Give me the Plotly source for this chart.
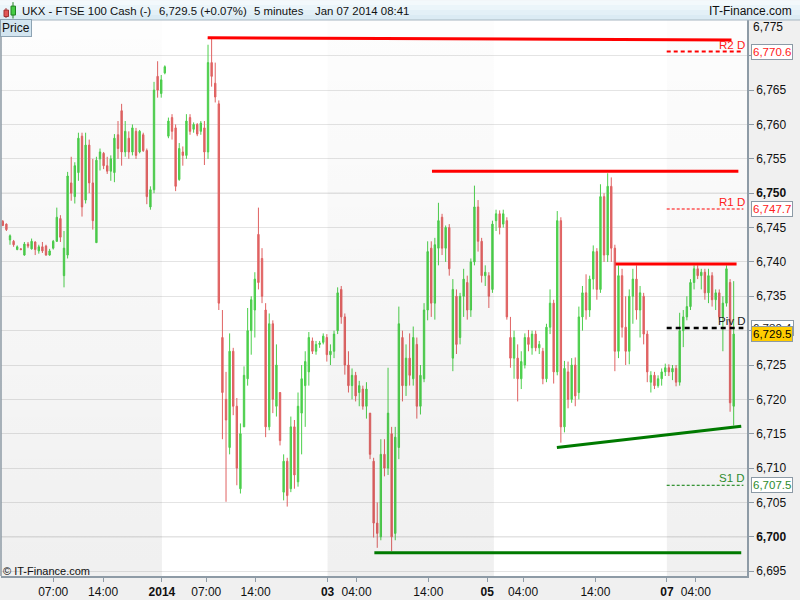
import plotly.graph_objects as go

# ---------------- data (5-min FTSE 100 cash, aggregated) ----------------
opens = [6745.9, 6745.5, 6743.2, 6743.0, 6741.8, 6741.9, 6741.0, 6742.6, 6741.9, 6742.9,
         6741.6, 6742.2, 6742.3, 6741.0, 6742.0, 6743.0, 6746.3, 6738.0, 6741.0, 6751.5,
         6749.5, 6753.0, 6758.3, 6749.0, 6757.0, 6751.5, 6742.8, 6755.0, 6755.8, 6754.0,
         6753.2, 6753.0, 6758.5, 6762.0, 6756.0, 6758.0, 6756.0, 6759.0, 6756.0, 6758.5,
         6756.2, 6748.0, 6750.5, 6767.0, 6764.5, 6767.5, 6758.3, 6761.0, 6759.5, 6752.0,
         6756.0, 6755.5, 6761.0, 6759.3, 6760.0, 6759.0, 6759.5, 6756.0, 6769.0, 6766.0,
         6763.0, 6729.0, 6720.0, 6713.0, 6727.0, 6719.0, 6707.0, 6716.0, 6723.0, 6730.0,
         6733.0, 6744.0, 6740.5, 6733.0, 6716.0, 6731.0, 6719.0, 6721.0, 6706.5, 6711.0,
         6707.0, 6716.0, 6708.0, 6718.0, 6722.0, 6724.0, 6728.5, 6727.0, 6728.0, 6728.3,
         6729.0, 6726.5, 6727.0, 6730.0, 6736.0, 6732.0, 6725.0, 6722.0, 6723.5, 6721.0,
         6721.5, 6719.0, 6718.0, 6711.0, 6702.0, 6700.0, 6712.0, 6710.0, 6715.0, 6700.5,
         6713.0, 6729.0, 6722.0, 6726.0, 6723.0, 6728.0, 6719.0, 6723.0, 6733.0, 6742.0,
         6734.0, 6742.0, 6746.5, 6742.0, 6745.0, 6726.0, 6735.0, 6729.0, 6735.0, 6737.0,
         6733.0, 6740.0, 6748.0, 6743.0, 6738.0, 6738.0, 6736.0, 6746.0, 6747.0, 6745.5,
         6746.0, 6729.0, 6726.0, 6726.0, 6723.0, 6725.0, 6729.0, 6727.5, 6729.5, 6727.5,
         6727.0, 6723.0, 6730.5, 6734.0, 6724.0, 6746.0, 6716.0, 6724.0, 6720.0, 6725.0,
         6721.0, 6732.0, 6735.5, 6733.0, 6737.5, 6741.5, 6736.0, 6749.5, 6741.0, 6751.0,
         6742.0, 6727.0, 6738.0, 6730.5, 6727.0, 6735.0, 6737.5, 6733.0, 6735.0, 6729.5,
         6722.5, 6723.5, 6722.0, 6723.0, 6724.0, 6724.6, 6724.0, 6724.5, 6722.5, 6730.0,
         6732.0, 6733.5, 6737.0, 6739.0, 6738.0, 6738.5, 6735.5, 6738.0, 6734.5, 6735.5,
         6732.0, 6734.0, 6737.0, 6719.0]
highs = [6746.1, 6745.6, 6744.0, 6743.2, 6742.4, 6742.0, 6742.9, 6742.9, 6743.4, 6743.0,
         6742.5, 6742.9, 6742.5, 6741.9, 6743.2, 6747.9, 6746.8, 6744.5, 6753.1, 6755.3,
         6754.5, 6758.8, 6758.8, 6758.8, 6757.8, 6755.0, 6755.3, 6756.5, 6756.0, 6755.3,
         6755.5, 6758.6, 6760.5, 6763.0, 6760.5, 6759.0, 6760.0, 6759.5, 6759.2, 6758.8,
         6756.5, 6751.0, 6766.2, 6769.2, 6767.2, 6768.6, 6761.0, 6761.5, 6760.0, 6757.3,
         6756.8, 6761.5, 6761.5, 6760.3, 6760.2, 6760.5, 6760.5, 6771.6, 6772.6, 6769.0,
         6763.5, 6733.0, 6724.0, 6729.6, 6727.5, 6720.2, 6716.5, 6724.8, 6733.3, 6735.0,
         6738.5, 6747.9, 6742.0, 6734.0, 6732.5, 6731.5, 6728.0, 6721.0, 6712.0, 6711.5,
         6717.5, 6717.0, 6721.0, 6725.0, 6727.0, 6729.8, 6729.0, 6728.5, 6728.5, 6729.6,
         6729.5, 6728.0, 6730.0, 6736.3, 6736.5, 6732.5, 6727.0, 6724.5, 6724.0, 6722.7,
         6722.0, 6722.5, 6718.0, 6711.5, 6705.0, 6714.2, 6714.2, 6724.6, 6716.0, 6716.0,
         6733.5, 6730.0, 6728.0, 6729.6, 6730.6, 6729.0, 6725.0, 6734.0, 6743.0, 6743.0,
         6743.5, 6748.6, 6747.0, 6745.3, 6745.5, 6737.5, 6736.0, 6735.5, 6739.0, 6738.0,
         6740.5, 6751.1, 6749.0, 6743.5, 6739.5, 6738.5, 6746.0, 6747.6, 6747.5, 6747.6,
         6746.5, 6732.0, 6730.0, 6728.0, 6727.0, 6729.6, 6730.1, 6730.0, 6730.0, 6728.5,
         6727.5, 6731.0, 6736.0, 6734.5, 6747.4, 6746.5, 6725.6, 6725.5, 6726.0, 6726.1,
         6733.5, 6736.5, 6738.2, 6738.0, 6742.4, 6742.0, 6751.3, 6750.0, 6752.9, 6752.3,
         6742.5, 6739.5, 6739.0, 6735.0, 6736.0, 6739.0, 6739.5, 6736.5, 6735.5, 6730.0,
         6724.1, 6724.0, 6723.5, 6724.5, 6725.2, 6725.1, 6725.0, 6725.0, 6732.6, 6733.0,
         6735.0, 6737.5, 6739.5, 6739.5, 6739.0, 6739.0, 6739.0, 6738.5, 6736.0, 6736.0,
         6735.0, 6739.5, 6737.5, 6737.2]
lows = [6745.2, 6744.5, 6742.5, 6742.2, 6741.7, 6741.7, 6740.9, 6742.0, 6741.8, 6741.0,
        6741.2, 6741.3, 6740.9, 6740.9, 6741.8, 6742.9, 6742.9, 6736.3, 6740.5, 6748.9,
        6748.5, 6751.8, 6746.6, 6748.5, 6750.0, 6744.7, 6742.8, 6753.3, 6753.5, 6752.8,
        6751.8, 6751.6, 6755.0, 6754.0, 6755.3, 6755.0, 6755.5, 6755.0, 6755.8, 6756.0,
        6748.4, 6747.6, 6750.0, 6763.9, 6763.9, 6767.3, 6758.0, 6757.8, 6750.3, 6751.8,
        6754.0, 6755.0, 6758.5, 6758.8, 6758.3, 6758.5, 6754.1, 6755.0, 6765.5, 6763.2,
        6733.0, 6714.2, 6705.1, 6712.0, 6717.7, 6707.5, 6706.3, 6716.0, 6722.0, 6726.5,
        6729.0, 6736.0, 6734.0, 6714.5, 6715.5, 6718.0, 6717.5, 6713.3, 6705.3, 6704.4,
        6706.5, 6707.0, 6707.3, 6712.0, 6716.0, 6722.0, 6726.6, 6726.5, 6727.5, 6728.0,
        6725.5, 6725.0, 6726.0, 6729.5, 6731.0, 6723.6, 6721.0, 6720.0, 6719.7, 6719.0,
        6718.5, 6717.2, 6711.3, 6699.9, 6698.4, 6699.5, 6708.8, 6709.0, 6697.9, 6699.5,
        6711.3, 6719.7, 6720.5, 6722.0, 6722.0, 6717.2, 6717.8, 6722.5, 6731.5, 6732.0,
        6731.6, 6739.5, 6741.0, 6740.0, 6738.0, 6724.1, 6726.6, 6728.0, 6732.0, 6731.6,
        6732.0, 6739.5, 6741.5, 6737.0, 6736.5, 6733.3, 6735.5, 6744.5, 6744.0, 6745.0,
        6731.6, 6724.6, 6723.0, 6719.7, 6721.5, 6724.5, 6727.0, 6726.5, 6727.0, 6726.6,
        6722.2, 6722.5, 6729.5, 6722.3, 6723.5, 6713.7, 6715.2, 6718.7, 6719.5, 6719.0,
        6720.0, 6730.0, 6731.6, 6732.0, 6736.0, 6734.5, 6735.5, 6740.0, 6740.0, 6740.0,
        6724.1, 6726.0, 6729.0, 6725.0, 6725.1, 6731.0, 6731.6, 6729.0, 6728.0, 6722.5,
        6721.0, 6721.5, 6721.7, 6722.0, 6723.4, 6723.4, 6722.8, 6721.9, 6722.0, 6727.6,
        6731.5, 6733.0, 6736.0, 6737.5, 6736.0, 6734.5, 6734.0, 6733.5, 6733.0, 6731.6,
        6727.0, 6733.5, 6718.2, 6716.2]
closes = [6745.3, 6744.7, 6743.8, 6742.5, 6742.2, 6741.8, 6742.6, 6742.3, 6743.0, 6741.8,
          6742.2, 6741.6, 6741.0, 6741.6, 6743.0, 6746.5, 6743.6, 6742.0, 6752.5, 6750.0,
          6754.0, 6758.0, 6748.0, 6757.0, 6751.5, 6746.0, 6754.8, 6756.0, 6754.0, 6753.2,
          6755.0, 6758.0, 6756.5, 6756.0, 6759.0, 6756.0, 6759.5, 6755.5, 6759.0, 6756.2,
          6749.5, 6750.5, 6765.0, 6765.0, 6766.5, 6768.4, 6760.5, 6759.0, 6751.0, 6756.5,
          6755.5, 6760.5, 6759.0, 6760.0, 6758.6, 6760.2, 6756.0, 6769.0, 6767.0, 6764.0,
          6734.0, 6721.0, 6717.0, 6727.0, 6719.0, 6710.0, 6715.0, 6723.5, 6730.0, 6734.5,
          6737.5, 6737.0, 6735.0, 6716.0, 6731.0, 6720.0, 6725.0, 6714.0, 6711.0, 6706.0,
          6716.0, 6709.0, 6719.0, 6723.0, 6725.5, 6729.0, 6727.0, 6728.0, 6728.2, 6729.2,
          6726.5, 6727.0, 6729.5, 6735.5, 6732.0, 6725.0, 6722.0, 6723.5, 6720.5, 6722.0,
          6719.0, 6721.5, 6712.0, 6702.0, 6700.5, 6712.0, 6710.0, 6718.0, 6700.0, 6714.5,
          6731.0, 6722.0, 6726.0, 6723.5, 6729.0, 6719.0, 6723.5, 6733.0, 6741.5, 6734.0,
          6742.5, 6746.0, 6742.0, 6745.0, 6739.0, 6736.0, 6728.0, 6735.0, 6737.5, 6733.0,
          6740.0, 6748.0, 6743.0, 6738.0, 6738.5, 6735.0, 6745.5, 6747.0, 6745.0, 6747.0,
          6732.0, 6726.0, 6729.0, 6723.0, 6725.5, 6729.0, 6728.0, 6729.5, 6727.5, 6728.0,
          6723.0, 6730.5, 6734.0, 6724.0, 6746.0, 6716.0, 6724.5, 6720.0, 6725.0, 6720.5,
          6732.0, 6735.5, 6733.0, 6737.5, 6741.5, 6736.0, 6749.5, 6741.0, 6751.0, 6742.0,
          6727.0, 6738.0, 6730.5, 6727.0, 6735.0, 6737.5, 6733.0, 6735.5, 6729.5, 6724.0,
          6723.5, 6722.0, 6723.0, 6724.0, 6724.6, 6724.0, 6724.5, 6722.5, 6730.0, 6732.0,
          6733.5, 6737.0, 6739.0, 6738.0, 6738.5, 6735.5, 6738.0, 6734.5, 6735.5, 6732.0,
          6734.0, 6739.0, 6719.5, 6729.5]
slots = list(range(len(closes)))

# time axis (slot units), labels
tick_pos = [14.0, 27.85, 44.2, 56.5, 70.2, 90.2, 98.25, 118.2, 134.55, 144.5, 164.6, 184.45, 192.5]
tick_text = ["07:00", "14:00", "<b>2014</b>", "07:00", "14:00", "<b>03</b>", "04:00", "14:00",
             "<b>05</b>", "04:00", "14:00", "<b>07</b>", "04:00"]
session_bands = [(-0.5, 44.2), (90.2, 136.4), (184.45, 206.7)]

price_ticks = list(range(6695, 6775, 5))
hidden_price_labels = [6770, 6730]   # covered by the level boxes in the original
top_price_label = 6775

# drawn trend lines: (x0, y0, x1, y1)
resistance_lines = [(56.9, 6772.6, 202.4, 6772.3), (119.2, 6753.2, 204.3, 6753.2), (170.2, 6739.7, 203.8, 6739.7)]
support_lines = [(103.2, 6697.7, 205.1, 6697.7), (153.9, 6713.0, 205.1, 6716.1)]

# daily pivot levels
pivot_names = ["R2 D", "R1 D", "Piv D", "S1 D"]
pivot_values = [6770.6, 6747.7, 6730.4, 6707.5]
pivot_x = (184.4, 205.7)
last_price = 6729.5

Y_RANGE = [6694.3, 6775.2]
X_RANGE = [-0.5, 206.7]

# ---------------- figure ----------------
fig = go.Figure()

for x0, x1 in session_bands:
    fig.add_trace(go.Scatter(
        x=[x0, x1, x1, x0, x0], y=[Y_RANGE[0], Y_RANGE[0], Y_RANGE[1], Y_RANGE[1], Y_RANGE[0]],
        mode="none", fill="toself", hoverinfo="skip", showlegend=False,
        fillgradient=dict(type="vertical", colorscale=[[0, "rgba(0,0,0,0.06)"], [1, "rgba(0,0,0,0.008)"]]),
    ))

fig.add_trace(go.Candlestick(
    x=slots, open=opens, high=highs, low=lows, close=closes,
    increasing=dict(line=dict(color="#4ccf4c", width=1), fillcolor="#4ccf4c"),
    decreasing=dict(line=dict(color="#e06262", width=1), fillcolor="#e06262"),
    whiskerwidth=0, showlegend=False, hoverinfo="skip",
))

def px2paper_x(px):
    return (px - 1) / 746.0

def py2paper_y(py):
    return (580 - py) / 560.0

shapes = []
# darker major gridlines
for v in (6750, 6700):
    shapes.append(dict(type="line", xref="paper", yref="y", x0=0, x1=1, y0=v, y1=v,
                       line=dict(color="#d0d0d0", width=1), layer="below"))
# left border
shapes.append(dict(type="line", xref="paper", yref="paper", x0=0, x1=0, y0=0, y1=1,
                   line=dict(color="#8e9ba6", width=1.5)))
# trend lines
for x0, y0, x1, y1 in resistance_lines:
    shapes.append(dict(type="line", xref="x", yref="y", x0=x0, y0=y0, x1=x1, y1=y1,
                       line=dict(color="#ff0000", width=3)))
for x0, y0, x1, y1 in support_lines:
    shapes.append(dict(type="line", xref="x", yref="y", x0=x0, y0=y0, x1=x1, y1=y1,
                       line=dict(color="#007a00", width=3)))
# pivot dashed lines
pivot_styles = [("#ff0000", 2, "4px,3px"), ("#ff0000", 1, "3px,2px"),
                ("#000000", 2.5, "5px,4px"), ("#007a00", 1, "3px,2px")]
for v, (c, w, d) in zip(pivot_values, pivot_styles):
    shapes.append(dict(type="line", xref="x", yref="y", x0=pivot_x[0], x1=pivot_x[1], y0=v, y1=v,
                       line=dict(color=c, width=w, dash=d)))
# title bar gradient
bar_cols = ["#f3f9fc", "#ebf5fa", "#e3f0f7", "#dbebf4"]
for k, c in enumerate(bar_cols):
    shapes.append(dict(type="rect", xref="paper", yref="paper",
                       x0=px2paper_x(0), x1=px2paper_x(800),
                       y0=py2paper_y(5 * (k + 1)), y1=py2paper_y(5 * k),
                       fillcolor=c, line=dict(width=0), layer="above"))
shapes.append(dict(type="line", xref="paper", yref="paper", x0=px2paper_x(0), x1=px2paper_x(800),
                   y0=py2paper_y(20), y1=py2paper_y(20), line=dict(color="#a7b6c1", width=1)))
# icon (two candles)
shapes.append(dict(type="line", xref="paper", yref="paper", x0=px2paper_x(6), x1=px2paper_x(6),
                   y0=py2paper_y(18), y1=py2paper_y(8), line=dict(color="#a03030", width=1)))
shapes.append(dict(type="rect", xref="paper", yref="paper", x0=px2paper_x(4), x1=px2paper_x(8.5),
                   y0=py2paper_y(16.5), y1=py2paper_y(10), fillcolor="#e05555",
                   line=dict(color="#a03030", width=1)))
shapes.append(dict(type="line", xref="paper", yref="paper", x0=px2paper_x(13), x1=px2paper_x(13),
                   y0=py2paper_y(18.5), y1=py2paper_y(2), line=dict(color="#208020", width=1)))
shapes.append(dict(type="rect", xref="paper", yref="paper", x0=px2paper_x(11), x1=px2paper_x(15.5),
                   y0=py2paper_y(15), y1=py2paper_y(6), fillcolor="#44cc44",
                   line=dict(color="#208020", width=1)))

FONT = "Liberation Sans, Arial, sans-serif"
ann = []
title_parts = [("UKX - FTSE 100 Cash (-)", 20), ("6,729.5 (+0.07%)", 157), ("5 minutes", 252),
               ("Jan 07 2014 08:41", 312.5)]
for txt, px in title_parts:
    ann.append(dict(text=txt, xref="paper", yref="paper", x=px2paper_x(px), y=py2paper_y(10.5),
                    xanchor="left", yanchor="middle", showarrow=False,
                    font=dict(family=FONT, size=11.4, color="#101010")))
ann.append(dict(text="IT-Finance.com", xref="paper", yref="paper", x=px2paper_x(794), y=py2paper_y(10.5),
                xanchor="right", yanchor="middle", showarrow=False,
                font=dict(family=FONT, size=12, color="#101010")))
ann.append(dict(text="Price", xref="paper", yref="paper", x=px2paper_x(0), y=py2paper_y(28),
                xanchor="left", yanchor="middle", showarrow=False, bgcolor="#d3e5f0",
                bordercolor="#8da3b3", borderwidth=1, borderpad=1,
                font=dict(family=FONT, size=12, color="#101010")))
ann.append(dict(text="© IT-Finance.com", xref="paper", yref="paper", x=px2paper_x(1), y=py2paper_y(575),
                xanchor="left", yanchor="middle", showarrow=False,
                font=dict(family=FONT, size=11, color="#101010")))
ann.append(dict(text=f"{top_price_label:,}", xref="paper", yref="paper", x=px2paper_x(751),
                y=py2paper_y(27), xanchor="left", yanchor="middle", showarrow=False,
                font=dict(family=FONT, size=12, color="#101010")))
pivot_label_cols = ["#ff2020", "#ff2020", "#202020", "#2e8b2e"]
for name, v, c in zip(pivot_names, pivot_values, pivot_label_cols):
    ann.append(dict(text=name, xref="x", yref="y", x=pivot_x[1] + 1.0, y=v, xanchor="right",
                    yanchor="bottom", yshift=-1, showarrow=False,
                    font=dict(family=FONT, size=11.5, color=c)))
box_cols = ["#ff2020", "#ff2020", "#202020", "#2e8b2e"]
for k in range(len(pivot_values)):
    ann.append(dict(text=f"{pivot_values[k]:,.1f}", xref="paper", yref="y", x=px2paper_x(751),
                    y=pivot_values[k], xanchor="left", yanchor="middle", showarrow=False,
                    bgcolor="#ffffff", bordercolor="#8c9aa6", borderwidth=1, borderpad=1,
                    font=dict(family=FONT, size=11.5, color=box_cols[k])))
ann.append(dict(text=f"{last_price:,.1f}", xref="paper", yref="y", x=px2paper_x(751),
                y=last_price, xanchor="left", yanchor="middle", showarrow=False,
                bgcolor="#ffcc00", bordercolor="#8c9aa6", borderwidth=1, borderpad=1,
                font=dict(family=FONT, size=11.5, color="#000000")))

price_text = []
for v in price_ticks:
    s = f"{v:,}"
    if v in hidden_price_labels:
        s = " "
    elif v % 50 == 0:
        s = f"<b>{s}</b>"
    price_text.append(s)

fig.update_layout(
    width=800, height=600, autosize=False,
    margin=dict(l=1, r=53, t=20, b=20, pad=0),
    paper_bgcolor="#f0f0f0", plot_bgcolor="#ffffff",
    font=dict(family=FONT, size=12, color="#101010"),
    showlegend=False, hovermode=False, boxgap=0.45,
    shapes=shapes, annotations=ann,
    xaxis=dict(range=X_RANGE, tickvals=tick_pos, ticktext=tick_text, ticks="outside", ticklen=4,
               tickcolor="#8e9ba6", showgrid=False, zeroline=False, showline=True,
               linecolor="#8e9ba6", linewidth=1.5, rangeslider=dict(visible=False),
               tickfont=dict(family=FONT, size=12, color="#101010"), fixedrange=True),
    yaxis=dict(range=Y_RANGE, side="right", tickvals=price_ticks, ticktext=price_text,
               ticks="outside", ticklen=5, tickcolor="#8e9ba6", showgrid=True,
               gridcolor="#e4e4e4", gridwidth=1, zeroline=False, showline=True,
               linecolor="#8e9ba6", linewidth=1.5,
               tickfont=dict(family=FONT, size=12, color="#101010"), fixedrange=True),
)

fig.write_html("out.html", config={"displayModeBar": False},
               post_script="document.body.style.margin='0';document.body.style.overflow='hidden';")
